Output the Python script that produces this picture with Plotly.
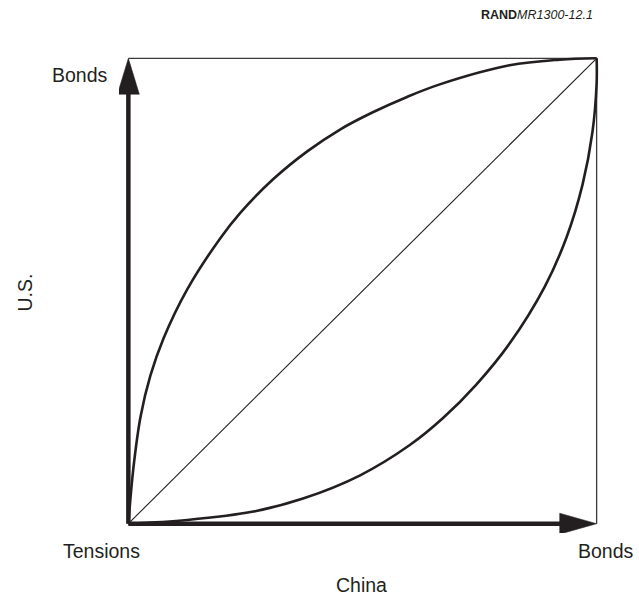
import plotly.graph_objects as go

# --- data (0 = Tensions, 1 = Bonds) ---
upper_x = [0.0, 0.011, 0.026, 0.047, 0.075, 0.126, 0.196, 0.239, 0.309, 0.382, 0.452, 0.522, 0.595, 0.665, 0.814, 0.921, 1.0]
upper_y = [0.0, 0.122, 0.230, 0.318, 0.398, 0.504, 0.613, 0.668, 0.740, 0.800, 0.847, 0.884, 0.917, 0.944, 0.985, 0.997, 1.0]
lower_x = [0.0, 0.126, 0.267, 0.373, 0.495, 0.601, 0.672, 0.744, 0.814, 0.889, 0.936, 0.970, 0.991, 1.0, 1.0]
lower_y = [0.0, 0.008, 0.026, 0.054, 0.104, 0.169, 0.227, 0.300, 0.387, 0.509, 0.616, 0.729, 0.841, 0.946, 1.0]
diag_x = [0.0, 1.0]
diag_y = [0.0, 1.0]
axis_min, axis_max = 0.0, 1.0
x_title = "China"
y_title = "U.S."
low_label = "Tensions"
high_label = "Bonds"
source_bold = "RAND"
source_ital = "MR1300-12.1"

INK = "#231f20"
W, H = 639, 596
PL, PR, PT, PB = 128, 597, 58, 524   # pixel frame of the unit square
pad = 0.02
sx = PR - PL
sy = PB - PT
plot_l = PL - pad * sx
plot_w = sx * (1 + 2 * pad)
plot_b = PB + pad * sy
plot_h = sy * (1 + 2 * pad)

fig = go.Figure()

# frame (top & right thin lines)
fig.add_trace(go.Scatter(x=[axis_min, axis_max, axis_max], y=[axis_max, axis_max, axis_min],
                         mode="lines", line=dict(color="#3a3a3a", width=1.3), hoverinfo="skip"))
# diagonal
fig.add_trace(go.Scatter(x=diag_x, y=diag_y, mode="lines",
                         line=dict(color=INK, width=1.1), hoverinfo="skip"))
# curves
fig.add_trace(go.Scatter(x=upper_x, y=upper_y, mode="lines",
                         line=dict(color=INK, width=2.6, shape="spline", smoothing=1.0, simplify=False),
                         hoverinfo="skip"))
fig.add_trace(go.Scatter(x=lower_x, y=lower_y, mode="lines",
                         line=dict(color=INK, width=2.6, shape="spline", smoothing=1.0, simplify=False),
                         hoverinfo="skip"))

# axis arrows
head_len_y = 36 / sy
head_half_x = 11 / sx
head_len_x = 37 / sx
head_half_y = 10.5 / sy
fig.add_trace(go.Scatter(x=[axis_min, axis_min], y=[axis_min, axis_max - head_len_y * 0.5],
                         mode="lines", line=dict(color=INK, width=4.5), hoverinfo="skip"))
fig.add_trace(go.Scatter(x=[axis_min, axis_max - head_len_x * 0.5], y=[axis_min, axis_min],
                         mode="lines", line=dict(color=INK, width=4.5), hoverinfo="skip"))
fig.add_trace(go.Scatter(x=[axis_min - head_half_x, axis_min, axis_min + head_half_x, axis_min - head_half_x],
                         y=[axis_max - head_len_y, axis_max, axis_max - head_len_y, axis_max - head_len_y],
                         mode="lines", fill="toself", fillcolor=INK, line=dict(color=INK, width=0.5),
                         hoverinfo="skip"))
fig.add_trace(go.Scatter(x=[axis_max - head_len_x, axis_max, axis_max - head_len_x, axis_max - head_len_x],
                         y=[axis_min - head_half_y, axis_min, axis_min + head_half_y, axis_min - head_half_y],
                         mode="lines", fill="toself", fillcolor=INK, line=dict(color=INK, width=0.5),
                         hoverinfo="skip"))

def px_x(px):
    return (px - plot_l) / plot_w

def px_y(py):
    return (plot_b - py) / plot_h

font = dict(family="Liberation Sans, Arial, sans-serif", size=19.5, color=INK)
ann = [
    dict(x=px_x(80), y=px_y(75), text=high_label, xanchor="center", yanchor="middle"),
    dict(x=px_x(101), y=px_y(551), text=low_label, xanchor="center", yanchor="middle"),
    dict(x=px_x(606), y=px_y(551), text=high_label, xanchor="center", yanchor="middle"),
    dict(x=px_x(361), y=px_y(585), text=x_title, xanchor="center", yanchor="middle"),
    dict(x=px_x(24), y=px_y(293), text=y_title, xanchor="center", yanchor="middle", textangle=-90),
]
for a in ann:
    a.update(xref="paper", yref="paper", showarrow=False, font=font)
ann.append(dict(x=px_x(595), y=px_y(15), xref="paper", yref="paper", showarrow=False,
                xanchor="right", yanchor="middle",
                text=f"<b>{source_bold}</b><i>{source_ital}</i>",
                font=dict(family="Liberation Sans, Arial, sans-serif", size=12.5, color=INK)))

fig.update_layout(
    width=W, height=H, autosize=False,
    paper_bgcolor="white", plot_bgcolor="white",
    showlegend=False,
    margin=dict(l=plot_l, r=W - plot_l - plot_w, t=PT - pad * sy, b=H - plot_b, pad=0),
    xaxis=dict(range=[axis_min - pad, axis_max + pad], visible=False, fixedrange=True),
    yaxis=dict(range=[axis_min - pad, axis_max + pad], visible=False, fixedrange=True),
    annotations=ann,
)

fig.write_html("out.html", config={"displayModeBar": False})

# remove the browser's default page margin so the figure sits at (0, 0)
with open("out.html", "r", encoding="utf-8") as f:
    html = f.read()
html = html.replace("<head>", "<head><style>html,body{margin:0;padding:0;overflow:hidden;}</style>", 1)
with open("out.html", "w", encoding="utf-8") as f:
    f.write(html)
